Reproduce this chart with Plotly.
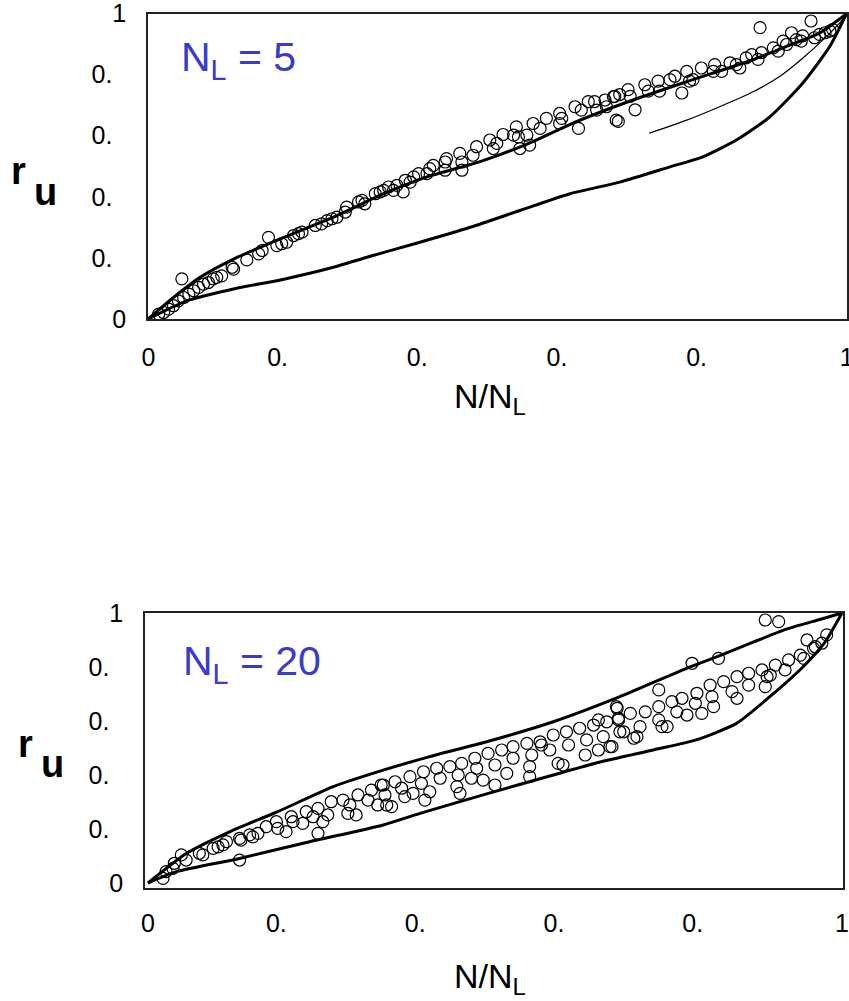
import plotly.graph_objects as go

# ---------------- data: panel 1 (N_L = 5) ----------------
top_upper_x = [0, 0.036, 0.074, 0.122, 0.194, 0.265, 0.337, 0.40, 0.475, 0.545, 0.613, 0.694, 0.771, 0.866, 0.914, 0.961, 1.0]
top_upper_y = [0, 0.07, 0.136, 0.196, 0.267, 0.333, 0.41, 0.466, 0.515, 0.575, 0.646, 0.717, 0.777, 0.849, 0.893, 0.936, 1.0]

top_lower_x = [0, 0.055, 0.122, 0.194, 0.265, 0.313, 0.389, 0.461, 0.532, 0.604, 0.675, 0.747, 0.794, 0.842, 0.890, 0.937, 0.976, 1.0]
top_lower_y = [0, 0.059, 0.098, 0.13, 0.169, 0.202, 0.251, 0.300, 0.355, 0.41, 0.448, 0.498, 0.531, 0.586, 0.662, 0.772, 0.893, 1.0]

top_thin_x = [0.717, 0.771, 0.818, 0.866, 0.904, 0.937, 0.966, 0.992, 1.0]
top_thin_y = [0.608, 0.651, 0.695, 0.744, 0.794, 0.854, 0.914, 0.975, 1.0]

top_pts_x = [0.0148, 0.0219, 0.029, 0.036, 0.043, 0.0505, 0.048, 0.058, 0.065, 0.072, 0.079, 0.086,
             0.093, 0.098, 0.105, 0.120, 0.122, 0.141, 0.158, 0.163, 0.172, 0.184, 0.191, 0.198,
             0.208, 0.215, 0.220, 0.239, 0.248, 0.256, 0.263, 0.270, 0.282, 0.284, 0.301, 0.306,
             0.310, 0.325, 0.332,
             0.337, 0.344, 0.351, 0.356, 0.365, 0.368, 0.375, 0.380, 0.387, 0.399, 0.403, 0.408,
             0.425, 0.427, 0.425, 0.446, 0.449, 0.449, 0.465, 0.470, 0.489, 0.494, 0.499, 0.508,
             0.523, 0.527, 0.530, 0.532, 0.542, 0.546, 0.551, 0.561, 0.570, 0.589, 0.592, 0.589,
             0.611, 0.616, 0.620, 0.630, 0.639, 0.642, 0.654, 0.656, 0.666, 0.670,
             0.668, 0.675, 0.673, 0.687, 0.690, 0.697, 0.711, 0.716, 0.730, 0.732, 0.747, 0.754,
             0.764, 0.771, 0.775, 0.780, 0.792, 0.809, 0.811, 0.821, 0.833, 0.842, 0.847, 0.856,
             0.864, 0.873, 0.878, 0.876, 0.895, 0.902, 0.909, 0.914, 0.921, 0.928, 0.935, 0.937,
             0.949, 0.954, 0.961, 0.969, 0.976, 0.980]
top_pts_y = [0.0154, 0.0208, 0.032, 0.043, 0.059, 0.070, 0.131, 0.081, 0.092, 0.103, 0.114, 0.119,
             0.131, 0.136, 0.141, 0.169, 0.163, 0.193, 0.213, 0.224, 0.267, 0.240, 0.246, 0.251,
             0.273, 0.279, 0.284, 0.306, 0.311, 0.322, 0.328, 0.333, 0.350, 0.366, 0.383, 0.388,
             0.377, 0.410, 0.416,
             0.421, 0.432, 0.421, 0.4375, 0.416, 0.454, 0.448, 0.465, 0.476, 0.476, 0.492, 0.503,
             0.514, 0.525, 0.487, 0.542, 0.487, 0.514, 0.536, 0.564, 0.586, 0.558, 0.575, 0.604,
             0.602, 0.629, 0.596, 0.558, 0.602, 0.569, 0.640, 0.624, 0.657, 0.673, 0.657, 0.640,
             0.695, 0.624, 0.684, 0.712, 0.712, 0.684, 0.717, 0.695, 0.728, 0.651,
             0.729, 0.735, 0.647, 0.751, 0.729, 0.685, 0.767, 0.746, 0.779, 0.746, 0.784, 0.795,
             0.740, 0.811, 0.779, 0.784, 0.822, 0.811, 0.833, 0.811, 0.839, 0.833, 0.822, 0.855,
             0.866, 0.850, 0.872, 0.954, 0.888, 0.877, 0.910, 0.899, 0.9375, 0.915, 0.910, 0.927,
             0.976, 0.921, 0.932, 0.9375, 0.943, 0.948]

# ---------------- data: panel 2 (N_L = 20) ----------------
bot_upper_x = [0, 0.0557, 0.123, 0.185, 0.267, 0.339, 0.406, 0.488, 0.584, 0.680, 0.776, 0.824, 0.872, 0.920, 0.968, 1.0]
bot_upper_y = [0, 0.11, 0.196, 0.262, 0.357, 0.418, 0.468, 0.523, 0.597, 0.69, 0.795, 0.842, 0.892, 0.94, 0.976, 1.0]

bot_lower_x = [0, 0.041, 0.132, 0.233, 0.339, 0.392, 0.488, 0.584, 0.650, 0.728, 0.79, 0.848, 0.896, 0.944, 0.975, 1.0]
bot_lower_y = [0, 0.042, 0.091, 0.153, 0.215, 0.258, 0.330, 0.400, 0.447, 0.4926, 0.53, 0.591, 0.69, 0.801, 0.89, 1.0]

bot_pts_x = [0.0216, 0.026, 0.038, 0.036, 0.048, 0.055, 0.074, 0.079, 0.094, 0.101, 0.108, 0.113,
             0.132, 0.134, 0.132, 0.1465, 0.151, 0.1585, 0.1705, 0.185, 0.187, 0.199, 0.2065, 0.209,
             0.223, 0.228, 0.238, 0.245, 0.245, 0.252, 0.259, 0.264, 0.281, 0.288, 0.291, 0.300,
             0.3026, 0.317, 0.322, 0.331, 0.336,
             0.339, 0.3415, 0.344, 0.351, 0.356, 0.3655, 0.370, 0.3775, 0.382, 0.394, 0.397, 0.399,
             0.406, 0.416, 0.421, 0.435, 0.445, 0.447, 0.452, 0.4496, 0.466, 0.471, 0.4736, 0.483,
             0.490, 0.500, 0.500, 0.5096, 0.517, 0.526, 0.526, 0.546, 0.553, 0.550, 0.550, 0.565,
             0.567, 0.579, 0.584, 0.591, 0.598, 0.603, 0.606, 0.622, 0.630, 0.632, 0.642, 0.649,
             0.649, 0.656, 0.661, 0.6657, 0.675, 0.678, 0.680,
             0.6686, 0.676, 0.678, 0.6854, 0.695, 0.700, 0.7046, 0.709, 0.7166, 0.736, 0.736, 0.736,
             0.7406, 0.748, 0.755, 0.762, 0.7695, 0.7767, 0.784, 0.7887, 0.791, 0.798, 0.810, 0.8127,
             0.815, 0.822, 0.8295, 0.8415, 0.8487, 0.8487, 0.8655, 0.8655, 0.8847, 0.8895, 0.892, 0.8967,
             0.904, 0.918, 0.923, 0.940, 0.945, 0.9496, 0.959, 0.9616, 0.971, 0.978, 0.8895, 0.9088]
bot_pts_y = [0.017, 0.042, 0.073, 0.054, 0.104, 0.085, 0.110, 0.104, 0.128, 0.134, 0.141, 0.153,
             0.165, 0.159, 0.085, 0.178, 0.171, 0.184, 0.2085, 0.227, 0.2025, 0.190, 0.2455, 0.227,
             0.221, 0.264, 0.2455, 0.2765, 0.184, 0.227, 0.252, 0.301, 0.307, 0.258, 0.289, 0.252,
             0.326, 0.307, 0.344, 0.289, 0.363,
             0.363, 0.326, 0.289, 0.283, 0.375, 0.351, 0.320, 0.394, 0.332, 0.369, 0.412, 0.307,
             0.338, 0.425, 0.388, 0.431, 0.357, 0.400, 0.443, 0.332, 0.388, 0.462, 0.425, 0.381,
             0.480, 0.437, 0.363, 0.4926, 0.406, 0.505, 0.462, 0.517, 0.474, 0.431, 0.394, 0.523,
             0.511, 0.4926, 0.548, 0.443, 0.437, 0.560, 0.511, 0.573, 0.474, 0.530, 0.585, 0.4926,
             0.604, 0.542, 0.597, 0.505, 0.653, 0.610, 0.560,
             0.505, 0.647, 0.604, 0.560, 0.628, 0.536, 0.542, 0.579, 0.634, 0.715, 0.653, 0.604,
             0.579, 0.579, 0.6715, 0.634, 0.684, 0.622, 0.8137, 0.6655, 0.7026, 0.628, 0.733, 0.690,
             0.653, 0.832, 0.7456, 0.7085, 0.764, 0.684, 0.7767, 0.733, 0.789, 0.727, 0.764, 0.770,
             0.807, 0.789, 0.826, 0.844, 0.832, 0.900, 0.869, 0.875, 0.888, 0.919, 0.974, 0.968]

tick_vals = [0, 0.2, 0.4, 0.6, 0.8, 1]
x_tick_text = ["0", "0.\u00a0\u00a0\u00a0", "0.\u00a0\u00a0\u00a0", "0.\u00a0\u00a0\u00a0", "0.\u00a0\u00a0\u00a0", "1"]
y_tick_text = ["0", "0.\u00a0\u00a0", "0.\u00a0\u00a0", "0.\u00a0\u00a0", "0.\u00a0\u00a0", "1"]

FONT = "Arial, Liberation Sans, sans-serif"
W, H = 849, 1001

fig = go.Figure()

def add_panel(xa, ya, upper, lower, pts, thin=None):
    for crv in (upper, lower):
        fig.add_trace(go.Scatter(x=crv[0], y=crv[1], mode="lines",
                                 line=dict(color="black", width=3, shape="spline", smoothing=0.6),
                                 xaxis=xa, yaxis=ya, showlegend=False))
    if thin is not None:
        fig.add_trace(go.Scatter(x=thin[0], y=thin[1], mode="lines",
                                 line=dict(color="black", width=1.2, shape="spline", smoothing=0.6),
                                 xaxis=xa, yaxis=ya, showlegend=False))
    fig.add_trace(go.Scatter(x=pts[0], y=pts[1], mode="markers",
                             marker=dict(symbol="circle-open", size=12, color="black",
                                         line=dict(width=1.2, color="black")),
                             xaxis=xa, yaxis=ya, showlegend=False))

add_panel("x", "y", (top_upper_x, top_upper_y), (top_lower_x, top_lower_y),
          (top_pts_x, top_pts_y), (top_thin_x, top_thin_y))
add_panel("x2", "y2", (bot_upper_x, bot_upper_y), (bot_lower_x, bot_lower_y),
          (bot_pts_x, bot_pts_y))

axis_common = dict(showline=True, mirror=True, linecolor="#222", linewidth=1.5,
                   showgrid=False, zeroline=False, ticks="outside", tickcolor="rgba(0,0,0,0)",
                   tickvals=tick_vals, tickfont=dict(family=FONT, size=25, color="black"),
                   ticklabeloverflow="allow", automargin=False, fixedrange=True)

fig.update_layout(
    width=W, height=H,
    margin=dict(l=0, r=0, t=0, b=0),
    paper_bgcolor="white", plot_bgcolor="white",
    xaxis=dict(domain=[148 / W, 847 / W], range=[-0.0005, 1.0005], ticktext=x_tick_text, ticklen=15,
               anchor="y", **axis_common),
    yaxis=dict(domain=[1 - 319 / H, 1 - 13.5 / H], range=[-0.0005, 1.0005], ticktext=y_tick_text, ticklen=15,
               anchor="x", **axis_common),
    xaxis2=dict(domain=[145 / W, 843.3 / W], range=[-0.0043, 1.0019], ticktext=x_tick_text, ticklen=13,
                anchor="y2", **axis_common),
    yaxis2=dict(domain=[1 - 887.7 / H, 1 - 612.7 / H], range=[-0.0174, 1.001], ticktext=y_tick_text,
                ticklen=15, anchor="x2", **axis_common),
)

def ann(text, px, py, size, color="black", bold=False, xanchor="left"):
    fig.add_annotation(text=("<b>%s</b>" % text) if bold else text,
                       x=px / W, y=1 - py / H, xref="paper", yref="paper",
                       xanchor=xanchor, yanchor="middle", showarrow=False,
                       font=dict(family=FONT, size=size, color=color))

blue = "rgb(58,58,204)"
ann("N<sub>L</sub> = 5", 179, 60, 41, blue)
ann("N<sub>L</sub> = 20", 181, 664, 41, blue)

ann("N/N<sub>L</sub>", 490, 398, 34, xanchor="center")
ann("N/N<sub>L</sub>", 490, 978, 34, xanchor="center")

ann("r", 18.5, 171, 38, bold=True, xanchor="center")
ann("u", 45, 192, 38, bold=True, xanchor="center")
ann("r", 25, 744, 38, bold=True, xanchor="center")
ann("u", 52, 764, 38, bold=True, xanchor="center")

fig.write_html("out.html")
